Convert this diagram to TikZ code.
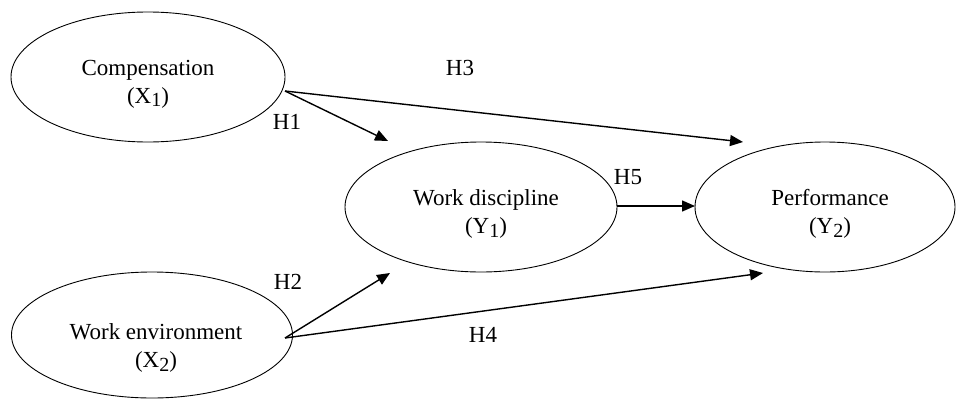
\documentclass[tikz,border=0pt]{standalone}
\usepackage{fontspec}
\setmainfont{Liberation Serif}
\usetikzlibrary{shapes.geometric,arrows.meta}
\newcommand\lowsub[1]{\raisebox{-3.5pt}{\fontsize{20}{20}\selectfont #1}}
\begin{document}
\begin{tikzpicture}[x=1pt,y=-1pt,
  ell/.style={ellipse,draw,line width=0.9pt,inner sep=0pt},
  lbl/.style={font=\fontsize{23}{28}\selectfont,align=center,inner sep=0pt},
  hyp/.style={font=\fontsize{23}{28}\selectfont,inner sep=0pt},
  arr/.style={line width=1.4pt,-{Triangle[length=13pt,width=11pt]}}]
\useasboundingbox (0,0) rectangle (957,399);
% ellipses
\node[ell,minimum width=274pt,minimum height=130pt] (comp) at (148,77) {};
\node[ell,minimum width=272pt,minimum height=130pt] (disc) at (481,207) {};
\node[ell,minimum width=260pt,minimum height=130pt] (perf) at (825,207) {};
\node[ell,minimum width=281pt,minimum height=126pt] (env) at (152,335) {};
% texts
\node[lbl] (compt) at (148,84) {Compensation\\(X\lowsub{1})};
\node[lbl] (disct) at (486,214) {Work discipline\\(Y\lowsub{1})};
\node[lbl] (perft) at (830,214) {Performance\\(Y\lowsub{2})};
\node[lbl] (envt) at (156,348) {Work environment\\(X\lowsub{2})};
% connector ends
\coordinate (s1) at (285,91);
\coordinate (s2) at (285,338);
\coordinate (s5) at (617,206);
\coordinate (t1) at (388,141);
\coordinate (t3) at (743,142);
\coordinate (t5) at (695,206);
\coordinate (t2) at (390,273);
\coordinate (t4) at (763,273);
\draw[arr] (s1) -- (t1);
\draw[arr] (s1) -- (t3);
\draw[arr] (s5) -- (t5);
\draw[arr] (s2) -- (t2);
\draw[arr] (s2) -- (t4);
% hypothesis labels
\node[hyp] (h1) at (287,122) {H1};
\node[hyp] (h2) at (288,282) {H2};
\node[hyp] (h3) at (460,68) {H3};
\node[hyp] (h4) at (483,335) {H4};
\node[hyp] (h5) at (628,177) {H5};
\end{tikzpicture}
\end{document}
